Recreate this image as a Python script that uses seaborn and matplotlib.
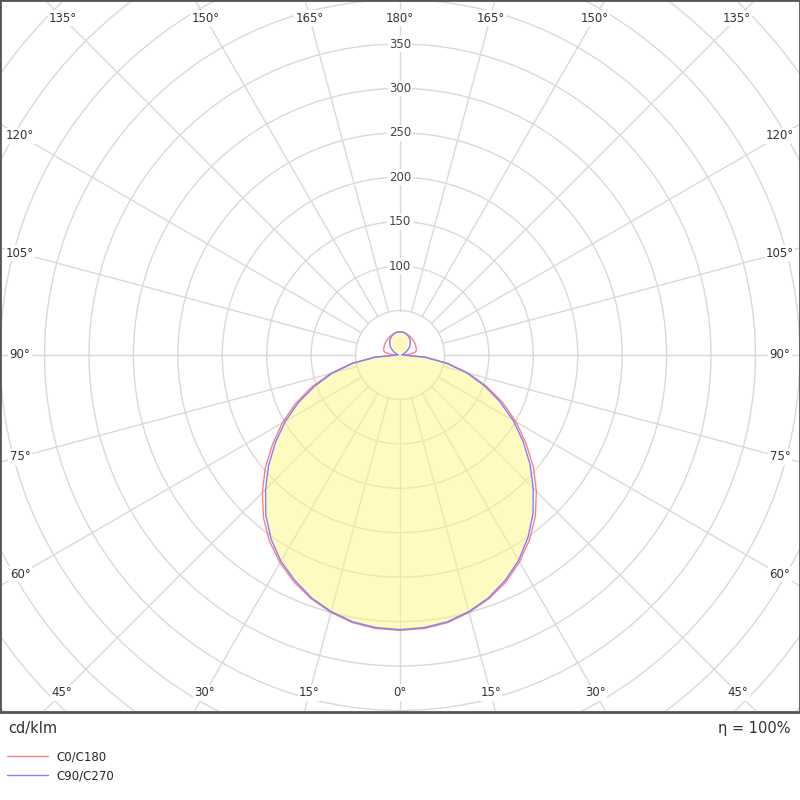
import numpy as np
import pandas as pd
import matplotlib
matplotlib.use('Agg')
import matplotlib.pyplot as plt
from matplotlib.patches import Circle
import seaborn as sns

sns.set_theme(style='white')
plt.rcParams['font.family'] = ['DejaVu Sans']

# gamma angles (deg) and luminous intensity (cd/klm) per C-plane half
gamma = list(range(0, 185, 5))
c0 = [310, 309, 306, 300, 292, 282, 269, 254, 237, 217, 196, 173, 151, 128, 104, 80, 55, 29, 5,
      11, 17, 19, 19.5, 20, 20.5, 21, 21.5, 22, 22.5, 23, 23.5, 24, 24.5, 25, 25.5, 26, 26]
c180 = [310, 309, 306, 300, 292, 282, 270, 256, 239, 219, 198, 175, 153, 130, 106, 81, 56, 29, 5,
        11, 17, 19, 19.5, 20, 20.5, 21, 21.5, 22, 22.5, 23, 23.5, 24, 24.5, 25, 25.5, 26, 26]
c90 = [309, 308, 305, 299, 291, 280, 267, 251, 233, 212, 191, 169, 147, 124, 101, 78, 53, 28, 3,
       2, 2.5, 3.5, 5, 7, 9, 11.5, 14, 16, 18, 20, 21.5, 23, 24, 25, 25.5, 26, 26]
c270 = [309, 308, 305, 299, 291, 280, 268, 253, 235, 214, 193, 171, 149, 126, 102, 79, 54, 28, 3,
        2, 2.5, 3.5, 5, 7, 9, 11.5, 14, 16, 18, 20, 21.5, 23, 24, 25, 25.5, 26, 26]

rings = list(range(50, 650, 50))
ring_labels = [100, 150, 200, 250, 300, 350]
angle_ticks = list(range(0, 195, 15))
planes = ['C0/C180', 'C90/C270']
colors = ['#ff7f7f', '#7f7fff']

scale = 311 / 350  # px per cd/klm


def plane_xy(right, left):
    g = np.radians(gamma)
    r = np.array(right, dtype=float)
    l = np.array(left, dtype=float)
    x = np.concatenate([r * np.sin(g), (-l * np.sin(g))[::-1]])
    y = np.concatenate([-r * np.cos(g), (-l * np.cos(g))[::-1]])
    return x, y


frames = []
for name, (right, left) in zip(planes, [(c0, c180), (c90, c270)]):
    x, y = plane_xy(right, left)
    frames.append(pd.DataFrame({'x': x, 'y': y, 'plane': name}))
df = pd.concat(frames, ignore_index=True)

fig = plt.figure(figsize=(8, 8), dpi=100)
ax = fig.add_axes([0, 0.11, 1, 0.89])
ax.set_xlim(-400 / scale, 400 / scale)
ax.set_ylim(-357 / scale, 355 / scale)

# grid
grid_col = '#d9d9d9'
for r in rings:
    ax.add_patch(Circle((0, 0), r, fill=False, ec=grid_col, lw=1, zorder=1))
for a in range(0, 360, 15):
    t = np.radians(a)
    ax.plot([50 * np.sin(t), 700 * np.sin(t)], [-50 * np.cos(t), -700 * np.cos(t)],
            color=grid_col, lw=1, zorder=1)

# fill under C90/C270
fx, fy = plane_xy(c90, c270)
ax.fill(fx, fy, color='#fff680', alpha=0.5, lw=0, zorder=2)

sns.lineplot(data=df, x='x', y='y', hue='plane', sort=False, estimator=None,
             palette=colors, lw=1.0, ax=ax, zorder=3)

# ring labels
for r in ring_labels:
    ax.text(0, r, str(r), ha='center', va='center', fontsize=8.5, color='#444444',
            bbox=dict(fc='white', ec='none', pad=1), zorder=4)

# angle labels near the frame
X, T, B = 380, 337, 338
for a in angle_ticks:
    sides = [1] if a in (0, 180) else [1, -1]
    for s in sides:
        t = np.radians(a)
        dx, dy = s * np.sin(t), -np.cos(t)
        cand = []
        if abs(dx) > 1e-9:
            cand.append(X / abs(dx))
        if abs(dy) > 1e-9:
            cand.append((T if dy > 0 else B) / abs(dy))
        d = min(cand)
        ax.text(d * dx / scale, d * dy / scale, f'{a}°', ha='center', va='center',
                fontsize=8.5, color='#333333',
                bbox=dict(fc='white', ec='none', pad=1), zorder=4)

ax.set_xticks([])
ax.set_yticks([])
ax.set_xlabel('')
ax.set_ylabel('')
for sp in ax.spines.values():
    sp.set_visible(True)
    sp.set_color('#555555')
    sp.set_linewidth(2)

handles, labels = ax.get_legend_handles_labels()
ax.legend(handles, labels, loc='upper left', bbox_to_anchor=(7 / 800, 1 - 750 / 800),
          bbox_transform=fig.transFigure, frameon=False, fontsize=8.5, handlelength=3.5,
          handletextpad=0.7, labelspacing=0.55, borderpad=0, borderaxespad=0)

fig.text(8 / 800, 1 - 728 / 800, 'cd/klm', ha='left', va='center', fontsize=10.5, color='#333333')
fig.text(791 / 800, 1 - 728 / 800, 'η = 100%', ha='right', va='center', fontsize=10.5,
         color='#333333')

fig.savefig('out.png', dpi=100)
